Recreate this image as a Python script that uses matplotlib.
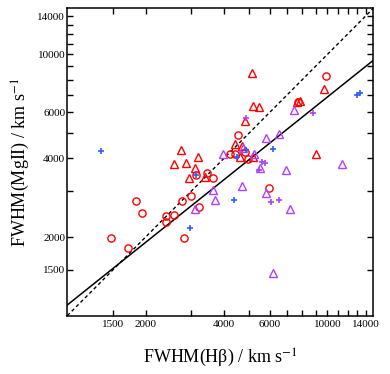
import numpy as np
import matplotlib
matplotlib.use("Agg")
import matplotlib.pyplot as plt
from matplotlib.ticker import FixedLocator, FixedFormatter, NullLocator

plt.rcParams['font.family'] = ['Liberation Serif', 'DejaVu Serif']
plt.rcParams['mathtext.fontset'] = 'stix'

# FWHM(Hbeta), FWHM(MgII) in km/s
red_circ_x = [1472, 1711, 1842, 1942, 2405, 2564, 2405, 2752, 2981, 3213, 2809,
              3115, 3434, 3640, 4541, 4202, 4392, 4949, 4798, 5950, 7701, 9912]
red_circ_y = [1978, 1816, 2754, 2465, 2413, 2424, 2288, 2754, 2878, 2612, 1978,
              3445, 3524, 3355, 4904, 4174, 4155, 3966, 4229, 3085, 6597, 8260]

red_tri_x = [2735, 3188, 2571, 2859, 3096, 2944, 3368, 4411, 4713, 4610, 5186,
             4819, 5186, 5467, 5114, 7842, 7636, 9694, 9008]
red_tri_y = [4304, 4030, 3795, 3849, 3664, 3355, 3393, 4558, 4460, 4058, 4030,
             5572, 6340, 6301, 8458, 6644, 6557, 7399, 4155]

pur_tri_x = [3977, 4722, 5219, 5794, 6511, 7402, 5502, 6925, 11339, 3624, 3695,
             3104, 4706, 5804, 7177, 6190]
pur_tri_y = [4155, 4400, 4145, 4805, 4943, 6133, 3664, 3600, 3795, 3039, 2759,
             2553, 3143, 2953, 2571, 1453]

pur_plus_x = [4862, 5600, 5760, 5477, 8819, 6066, 6511]
pur_plus_y = [5691, 3890, 3830, 3594, 5989, 2730, 2771]

blue_plus_x = [1344, 3115, 2962, 4477, 4841, 6190, 4384, 12961, 13333]
blue_plus_y = [4285, 3439, 2171, 4058, 4304, 4343, 2759, 7018, 7130]

# best fit: log y = a + b (log x - 3)
fit_a = 3.041
fit_b = 0.796

ticks = [1500, 2000, 3000, 4000, 5000, 6000, 7000, 8000, 9000, 10000,
         11000, 12000, 13000, 14000]
shown = [1500, 2000, 4000, 6000, 10000, 14000]
ticklabels = [str(t) if t in shown else '' for t in ticks]

fig = plt.figure(figsize=(3.9, 3.74), dpi=100)
ax = fig.add_axes([0.1726, 0.1559, 0.7846, 0.8219])
ax.set_xscale('log')
ax.set_yscale('log')
ax.set_xlim(1000, 15000)
ax.set_ylim(1000, 15000)

xx = np.array([1000, 15000])
ax.plot(xx, xx, color='k', lw=1.0, ls=(0, (2.5, 2.0)))
ax.plot(xx, 10 ** (fit_a + fit_b * (np.log10(xx) - 3)), color='k', lw=1.1)

red = '#ff0000'
purple = '#b040ff'
blue = '#2f5cff'
ax.plot(red_circ_x, red_circ_y, ls='none', marker='o', ms=5.2, mfc='none',
        mec=red, mew=1.0)
ax.plot(red_tri_x, red_tri_y, ls='none', marker='^', ms=5.8, mfc='none',
        mec=red, mew=1.0)
ax.plot(pur_tri_x, pur_tri_y, ls='none', marker='^', ms=5.8, mfc='none',
        mec=purple, mew=1.0)
ax.plot(pur_plus_x, pur_plus_y, ls='none', marker='+', ms=5, mec=purple, mew=1.2)
ax.plot(blue_plus_x, blue_plus_y, ls='none', marker='+', ms=5, mec=blue, mew=1.2)

for axis in (ax.xaxis, ax.yaxis):
    axis.set_major_locator(FixedLocator(ticks))
    axis.set_major_formatter(FixedFormatter(ticklabels))
    axis.set_minor_locator(NullLocator())
ax.tick_params(which='both', direction='in', top=True, right=True,
               length=4.5, width=1.0, labelsize=8, pad=3)
ax.tick_params(axis='y', pad=1.5)
for s in ax.spines.values():
    s.set_linewidth(1.1)

ax.set_xlabel('FWHM(H\u03b2) / km s$^{-1}$', fontsize=13, labelpad=13)
ax.set_ylabel('FWHM(MgII) / km s$^{-1}$', fontsize=13, labelpad=4)

fig.savefig('out.png', dpi=100)
